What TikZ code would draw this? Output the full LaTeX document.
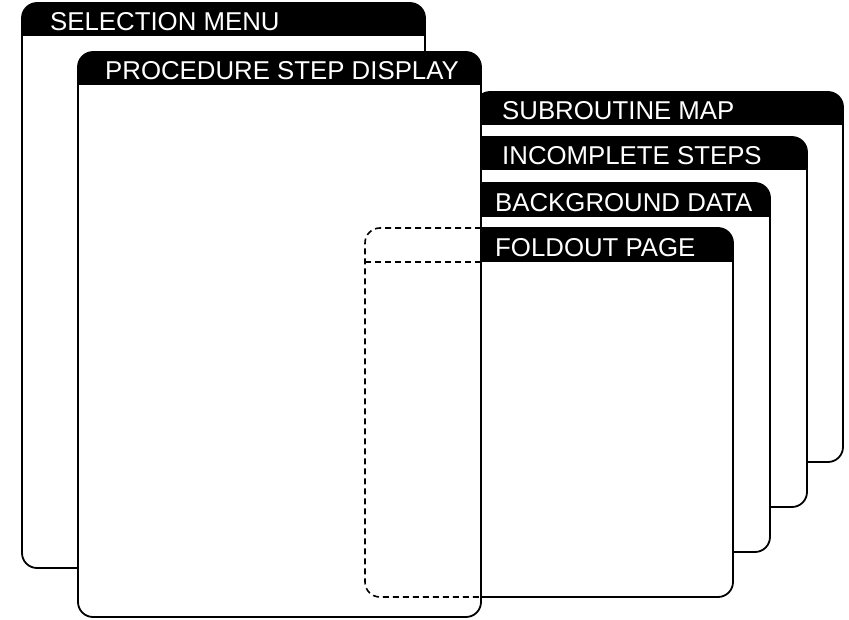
\documentclass[tikz,border=0pt]{standalone}
\usepackage{fontspec}
\setmainfont{Liberation Sans}
\tikzset{
  panelfill/.style={fill=white, rounded corners=15pt},
  paneledge/.style={draw=black, line width=1.8pt, rounded corners=15pt},
  panelhead/.style={fill=black},
  headtext/.style={text=white, font=\fontsize{25.8}{26}\selectfont, inner sep=0pt, anchor=base west},
  hiddenedge/.style={draw=black, line width=1.6pt, dash pattern=on 6pt off 4pt, rounded corners=15pt}
}
% \drawpanel{name}{x1}{y1}{x2}{y2}{header bottom}{label x}{label}
\newcommand{\drawpanel}[8]{%
  \path[panelfill] (#2,#3) rectangle (#4,#5);
  \fill[panelhead] (#2,#6) [rounded corners=15pt] -- (#2,#3) -- (#4,#3) [sharp corners] -- (#4,#6) -- cycle;
  \path[paneledge] (#2,#3) rectangle (#4,#5);
  \node[headtext] (#1) at (#7,#6-5) {#8};
}
\begin{document}
\begin{tikzpicture}[x=1pt,y=-1pt]
  \useasboundingbox (0,0) rectangle (849,620);
  % stacked reference cards, back to front
  \drawpanel{subroutine}{475}{92}{843}{462}{125}{502}{SUBROUTINE MAP}
  \drawpanel{incomplete}{439}{137}{807}{507}{170}{502}{INCOMPLETE STEPS}
  \drawpanel{background}{402}{183}{770}{552}{217}{495}{BACKGROUND DATA}
  \drawpanel{foldout}{365}{228}{733}{597}{262}{495}{FOLDOUT PAGE}
  % main windows
  \drawpanel{selection}{22}{3}{425}{568}{36}{50}{SELECTION MENU}
  \drawpanel{procedure}{78}{52}{481}{617}{85}{105}{PROCEDURE STEP DISPLAY}
  % outline of the foldout page where it lies under the step display
  \draw[hiddenedge] (481,228) -- (365,228) -- (365,597) -- (481,597);
  \draw[hiddenedge, rounded corners=0pt] (365,262) -- (481,262);
\end{tikzpicture}
\end{document}
